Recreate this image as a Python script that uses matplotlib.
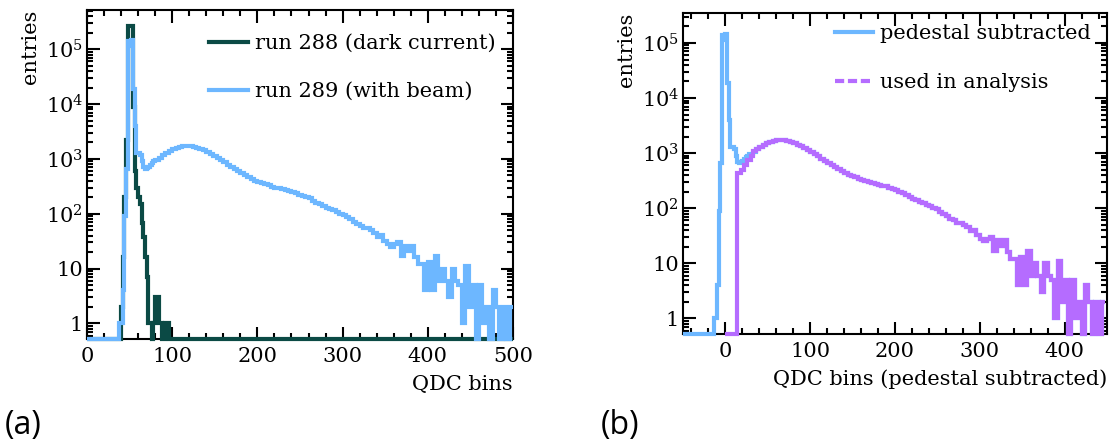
import numpy as np
import matplotlib
matplotlib.use('Agg')
import matplotlib.pyplot as plt
from matplotlib import ticker
from matplotlib.lines import Line2D

# QDC histogram binning: one wide empty bin, 2-wide bins around the pedestal, 4-wide above
qdc_edges = np.concatenate([[0], np.arange(36, 80, 2), np.arange(80, 501, 4)])

# run 288 (dark current)
run288_counts = ([0] +
                 # 36 .. 78 (2-wide)
                 [0, 0, 2, 16, 200, 2200, 2.7e5, 2.6e5, 2.7e5, 8700, 600,
                  300, 200, 150, 67, 37, 16, 7, 1, 1, 0, 1] +
                 # 80 .. 496 (4-wide)
                 [3, 1, 0, 1] + [0] * 101)

# run 289 (with beam)
run289_counts = ([0] +
                 # 36 .. 78 (2-wide)
                 [0, 1, 1, 4, 90, 650, 1.4e5, 1.15e5, 1.45e5, 1.9e4, 4000,
                  1300, 1300, 1200, 900, 700, 660, 680, 720, 780, 840, 900] +
                 # 80 .. 496 (4-wide)
                 [950, 1060, 1180, 1300, 1420, 1520, 1600, 1660, 1700, 1720,
                  1700, 1660, 1600, 1520, 1430, 1340, 1250, 1150, 1050, 950,
                  870, 790, 720, 660, 600, 550, 505, 465, 430, 400,
                  380, 362, 345, 330, 314, 300, 292, 278, 268, 256,
                  248, 236, 224, 212, 200, 190, 172, 158, 148, 138,
                  130, 124, 116, 108, 100, 95, 86, 80, 72, 64,
                  61, 55, 54, 50, 45, 38, 41, 32, 28, 25,
                  28, 30, 17, 26, 21, 26, 16, 12, 12, 4,
                  13, 4, 17, 6, 10, 6, 3, 10, 6, 5,
                  1, 11, 2, 5, 0, 5, 1, 2, 0, 4,
                  2, 0, 2, 0, 2])

pedestal = 52

# "used in analysis" below the point where it joins the pedestal subtracted spectrum
used_edges = [0, 14, 18, 22, 26, 30, 33, 36]
used_counts = [0, 435, 490, 600, 740, 900, 1080]

c_dark = '#0b4a45'
c_beam = '#6db7ff'
c_used = '#b56cff'
lw = 3.0

plt.rcParams['font.family'] = ['DejaVu Serif']
plt.rcParams['mathtext.fontset'] = 'dejavuserif'
plt.rcParams['font.size'] = 15


def draw_hist(ax, edges, counts, xlim, ymin, **kw):
    edges = np.clip(np.asarray(edges, float), *xlim)
    counts = np.maximum(np.asarray(counts, float), ymin)
    ax.stairs(counts, edges, baseline=None, fill=False, clip_on=False,
              zorder=2, **kw)


def style_axes(ax, xlim, ylim):
    ax.set_xlim(*xlim)
    ax.set_yscale('log')
    ax.set_ylim(*ylim)
    ax.xaxis.set_major_locator(ticker.MultipleLocator(100))
    ax.xaxis.set_minor_locator(ticker.MultipleLocator(20))
    ax.yaxis.set_major_locator(ticker.FixedLocator([1, 10, 1e2, 1e3, 1e4, 1e5]))
    ax.yaxis.set_major_formatter(ticker.FixedFormatter(
        ['1', '10', '$10^2$', '$10^3$', '$10^4$', '$10^5$']))
    ax.yaxis.set_minor_locator(ticker.LogLocator(base=10, subs=np.arange(2, 10), numticks=20))
    ax.yaxis.set_minor_formatter(ticker.NullFormatter())
    ax.tick_params(which='both', direction='in', top=True, right=True, width=1.5)
    ax.tick_params(which='major', length=9)
    ax.tick_params(which='minor', length=4.5)
    ax.tick_params(axis='x', which='major', pad=6)
    ax.tick_params(axis='y', which='major', pad=3)
    for s in ax.spines.values():
        s.set_linewidth(1.5)
        s.set_zorder(1)


fig = plt.figure(figsize=(11.14, 4.46), dpi=100)
ax1 = fig.add_axes([0.0781, 0.2399, 0.3824, 0.7377])
ax2 = fig.add_axes([0.6131, 0.2511, 0.3806, 0.7198])

# (a) raw spectra
xlim1 = (0, 500)
ylim1 = (0.52, 5.2e5)
style_axes(ax1, xlim1, ylim1)
draw_hist(ax1, qdc_edges, run288_counts, xlim1, ylim1[0], color=c_dark, lw=lw)
draw_hist(ax1, qdc_edges, run289_counts, xlim1, ylim1[0], color=c_beam, lw=lw)
ax1.set_ylabel('entries', loc='top', labelpad=4)
ax1.set_xlabel('QDC bins', loc='right', labelpad=6)
h1 = [Line2D([], [], color=c_dark, lw=lw), Line2D([], [], color=c_beam, lw=lw)]
ax1.legend(h1, ['run 288 (dark current)', 'run 289 (with beam)'],
           loc='upper left', bbox_to_anchor=(0.263, 0.959), frameon=False,
           borderpad=0, handlelength=1.83, handletextpad=0.34, labelspacing=1.39)

# (b) pedestal subtracted
xlim2 = (-50, 450)
ylim2 = (0.52, 3.5e5)
style_axes(ax2, xlim2, ylim2)
sub_edges = qdc_edges - pedestal
draw_hist(ax2, sub_edges, run289_counts, xlim2, ylim2[0], color=c_beam, lw=lw)
join = int(np.searchsorted(sub_edges, used_edges[-1]))
draw_hist(ax2, list(used_edges) + list(sub_edges[join + 1:]),
          list(used_counts) + list(run289_counts[join:]),
          xlim2, ylim2[0], color=c_used, lw=lw)
ax2.set_ylabel('entries', loc='top', labelpad=4)
ax2.set_xlabel('QDC bins (pedestal subtracted)', loc='right', labelpad=6)
h2 = [Line2D([], [], color=c_beam, lw=lw),
      Line2D([], [], color=c_used, lw=lw, dashes=(2.2, 0.9))]
ax2.legend(h2, ['pedestal subtracted', 'used in analysis'],
           loc='upper left', bbox_to_anchor=(0.333, 0.998), frameon=False,
           borderpad=0, handlelength=1.83, handletextpad=0.34, labelspacing=1.45)

fig.text(0.004, 0.008, '(a)', family='Open Sans', fontsize=23, va='bottom')
fig.text(0.539, 0.008, '(b)', family='Open Sans', fontsize=23, va='bottom')

fig.savefig('out.png', dpi=100)
